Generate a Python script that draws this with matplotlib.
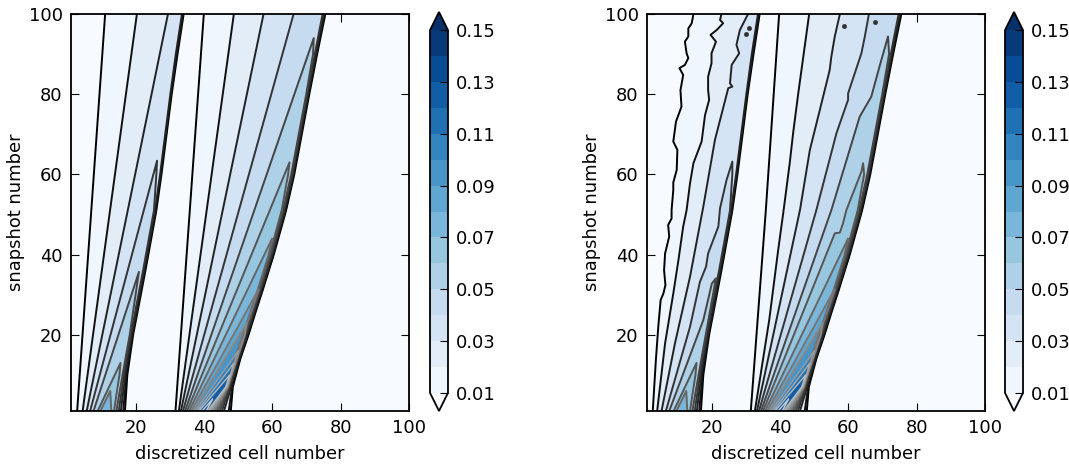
import matplotlib
matplotlib.use("Agg")
import matplotlib.pyplot as plt
from matplotlib.cm import ScalarMappable
from matplotlib.colors import BoundaryNorm, ListedColormap
import numpy as np

nan = np.nan
levels = [0.01, 0.02, 0.03, 0.04, 0.05, 0.06, 0.07, 0.08, 0.09, 0.10, 0.11, 0.12, 0.13, 0.14, 0.15]
bar_ticks = [0.01, 0.03, 0.05, 0.07, 0.09, 0.11, 0.13, 0.15]
axis_ticks = [20, 40, 60, 80, 100]

# shock side of each wave: cell number of each level at these snapshots
snaps_a = [1, 10, 20, 36, 51, 60, 70, 80, 90, 100]
fall_a = [
    [16.8, 17.5, 19.2, 22.8, 26.0, 27.5, 29.0, 30.5, 32.2, 34.0],
    [16.3, 17.2, 19.0, 22.6, 25.8, 27.3, 28.8, 30.3, 32.0, 33.8],
    [15.6, 16.9, 18.8, 22.4, 25.6, 27.1, 28.6, 30.1, 31.7, 33.5],
    [15.0, 16.5, 18.5, 22.1, 25.3, 26.0, nan, nan, nan, nan],
    [14.3, 16.1, 18.2, nan, nan, nan, nan, nan, nan, nan],
    [13.6, 15.2, nan, nan, nan, nan, nan, nan, nan, nan],
    [12.8, nan, nan, nan, nan, nan, nan, nan, nan, nan],
]
snaps_b = [1, 7, 14, 20, 26, 31, 40, 51, 60, 70, 80, 90, 100]
fall_b = [
    [47.8, 48.4, 50.6, 53.0, 55.2, 57.1, 60.4, 64.0, 66.4, 68.6, 70.8, 73.1, 75.5],
    [47.2, 48.2, 50.4, 52.8, 55.0, 56.9, 60.2, 63.8, 66.2, 68.4, 70.6, 72.9, 75.3],
    [45.8, 47.9, 50.2, 52.6, 54.8, 56.7, 60.0, 63.6, 66.0, 68.2, 70.4, 72.7, 75.0],
    [45.2, 47.5, 50.0, 52.3, 54.6, 56.5, 59.8, 63.4, 65.8, 68.0, 70.2, 72.4, 74.7],
    [44.6, 47.2, 49.7, 52.0, 54.3, 56.2, 59.5, 63.1, 65.5, 67.7, 69.9, 71.9, nan],
    [44.0, 47.1, 49.4, 51.7, 54.0, 55.9, 59.2, 62.7, 64.6, nan, nan, nan, nan],
    [43.5, 47.0, 49.1, 51.3, 53.7, 55.6, 58.9, nan, nan, nan, nan, nan, nan],
    [43.0, 46.9, 49.2, 51.2, 53.9, nan, nan, nan, nan, nan, nan, nan, nan],
    [42.5, 46.8, 49.6, 51.9, nan, nan, nan, nan, nan, nan, nan, nan, nan],
    [42.0, 46.7, 49.2, nan, nan, nan, nan, nan, nan, nan, nan, nan, nan],
    [41.5, 46.6, nan, nan, nan, nan, nan, nan, nan, nan, nan, nan, nan],
    [41.0, 46.3, nan, nan, nan, nan, nan, nan, nan, nan, nan, nan, nan],
    [40.6, nan, nan, nan, nan, nan, nan, nan, nan, nan, nan, nan, nan],
]

# rarefaction side, exact panel: (cell numbers, snapshots) per level
rise_a_exact = [
    ([2.8, 11.0], [1, 100]),
    ([4.4, 20.3], [1, 100]),
    ([5.6, 29.4], [1, 100]),
    ([6.6, 26.2], [1, 63.4]),
    ([7.6, 20.9], [1, 35.7]),
    ([8.8, 15.5], [1, 13]),
    ([9.6, 12.5], [1, 6]),
]
rise_b_exact = [
    ([31.6, 39.9], [1, 100]),
    ([32.6, 48.7], [1, 100]),
    ([33.2, 57.4], [1, 100]),
    ([33.8, 66.2], [1, 100]),
    ([34.4, 72.1], [1, 94]),
    ([35.0, 65.0], [1, 63]),
    ([35.6, 59.9], [1, 44]),
    ([36.2, 56.0], [1, 31.4]),
    ([36.8, 52.5], [1, 23]),
    ([37.4, 50.0], [1, 16]),
    ([38.0, 48.8], [1, 13]),
    ([38.5, 47.5], [1, 10]),
    ([39.4, 42.5], [1, 4]),
]

# same for the noisy panel, the low levels wander
rise_a_noisy = [
    ([2.7, 3.6, 4.3, 5.0, 5.8, 6.4, 6.0, 6.3, 7.5, 7.2, 8.2, 8.2, 8.7, 8.7, 9.7, 9.9, 8.7, 9.5, 11.1, 10.8,
      11.6, 10.5, 12.1, 13.1, 12.6, 12.1, 13.1, 13.1, 14.1, 14.6],
     [1.2, 13.7, 22, 28.7, 30.3, 32.4, 36.1, 40.3, 44.5, 47.4, 49, 51.1, 56.1, 58, 61.1, 66.1, 68.2, 73.2, 76.9, 81,
      84.8, 86.5, 87.3, 89, 90.2, 93.1, 94.4, 96.4, 97.7, 100]),
    ([4.0, 6.3, 8.7, 10.2, 11.6, 12.6, 13.6, 14.6, 17.0, 18.0, 19.2, 18.9, 18.9, 19.9, 19.9, 21.2, 19.6, 21.4,
      23.3, 22.4, 22.8],
     [1.2, 17.9, 30.3, 38.6, 47, 51.1, 57.8, 62.8, 68.2, 74.8, 78.6, 81, 84.4, 87.7, 90.2, 93.1, 94.8, 96,
      97.7, 98.5, 100]),
    ([5.3, 9.2, 13.6, 17.5, 20.9, 24.8, 26.0, 25.3, 25.8, 28.0, 27.2, 28.2, 30.6],
     [1.2, 17.9, 34.5, 52, 68.6, 81.5, 81.9, 82.7, 87.3, 90.2, 92.3, 96, 100]),
    ([6.6, 13.6, 16.5, 18.3, 18.9, 21.9, 22.4, 24.3, 26.0],
     [1.2, 22, 33.2, 37, 40.3, 47, 51.6, 58.6, 63.2]),
    ([7.6, 17.5, 20.0, 21.2], [1.2, 23.7, 32.8, 34.1]),
    ([8.8, 15.5], [1, 13]),
    ([9.6, 12.5], [1, 6]),
]
rise_b_noisy = [
    ([31.4, 35.8, 39.7], [1, 51, 100]),
    ([32.6, 36.8, 39.4, 41.0, 42.8, 43.8, 45.3, 48.5], [1, 23.7, 41, 51, 62.8, 70.3, 80.2, 100]),
    ([33.2, 45.8, 48.7, 51.6, 54.5, 55.0, 56.0, 57.5], [1, 51.1, 66.1, 76, 86, 89.4, 94.4, 100]),
    ([33.8, 50.6, 56.5, 59.9, 59.9, 63.8, 64.8, 66.0], [1, 51.1, 70.3, 78.6, 80.2, 90.2, 94.4, 100]),
    ([34.4, 55.0, 63.3, 66.7, 69.1, 71.6], [1, 51.1, 74.4, 79.4, 86.9, 94.4]),
    ([35.0, 56.0, 57.5, 58.4, 59.4, 63.8, 64.3], [1, 45.3, 45.5, 47.8, 51.1, 60.7, 62.8]),
    ([35.6, 59.9], [1, 44]),
    ([36.2, 56.0], [1, 31.4]),
    ([36.8, 52.5], [1, 23]),
    ([37.4, 50.0], [1, 16]),
    ([38.0, 48.8], [1, 13]),
    ([38.5, 47.5], [1, 10]),
    ([39.4, 42.5], [1, 4]),
]
blob_cells = [30.9, 29.9, 67.7, 58.7]
blob_snaps = [96.4, 95.0, 97.9, 97.1]

W, H = 1069.0, 468.0
FS = 12.9


def px_axes(fig, x0, x1, y0, y1):
    return fig.add_axes([x0 / W, 1 - y1 / H, (x1 - x0) / W, (y1 - y0) / H])


def draw_wave(ax, rise, snaps, fall, colors):
    snaps = np.array(snaps, dtype=float)
    for k, (xs, ys) in enumerate(rise):
        row = np.array(fall[k], dtype=float)
        keep = ~np.isnan(row) & (snaps <= ys[-1])
        px = list(xs) + list(row[keep][::-1])
        py = list(ys) + list(snaps[keep][::-1])
        ax.fill(px, py, color=colors[k], lw=0, zorder=2 + k * 0.01)
    for k, (xs, ys) in enumerate(rise):
        row = np.array(fall[k], dtype=float)
        keep = ~np.isnan(row) & (snaps <= ys[-1])
        # contour colour runs from black towards light grey with the level
        c = plt.cm.gray((levels[k] - levels[0]) / 0.15)
        lw = 1.4 if k < 9 else 1.0
        if ys[-1] >= 100:
            ax.plot(xs, ys, color=c, lw=lw, zorder=3 + k * 0.01)
            ax.plot(row[keep], snaps[keep], color=c, lw=lw, zorder=3 + k * 0.01)
        else:
            ax.plot(list(xs) + list(row[keep][::-1]), list(ys) + list(snaps[keep][::-1]),
                    color=c, lw=lw, zorder=3 + k * 0.01)


def finish(ax):
    ax.set_xlim(1, 100)
    ax.set_ylim(1, 100)
    ax.set_xticks(axis_ticks)
    ax.set_yticks(axis_ticks)
    ax.set_xlabel("discretized cell number", fontsize=FS, labelpad=5.5)
    ax.set_ylabel("snapshot number", fontsize=FS, labelpad=2.5)
    ax.tick_params(direction="in", top=True, right=True, length=5.5, width=0.8, labelsize=FS, pad=6, zorder=10)
    for s in ax.spines.values():
        s.set_linewidth(1.3)
        s.set_zorder(10)


blues = plt.cm.Blues
band_mid = [(a + b) / 2 for a, b in zip(levels[:-1], levels[1:])]
band_colors = [blues((m - levels[0]) / (levels[-1] - levels[0])) for m in band_mid]
cmap = ListedColormap(band_colors)
cmap.set_under(blues(0.0))
cmap.set_over(blues(1.0))
norm = BoundaryNorm(levels, len(band_colors))

fig = plt.figure(figsize=(W / 100, H / 100), dpi=100)
panels = [
    (71, 409, 430, rise_a_exact, rise_b_exact),
    (647, 985, 1005, rise_a_noisy, rise_b_noisy),
]
for x0, x1, bar_x, rise_a, rise_b in panels:
    ax = px_axes(fig, x0, x1, 14, 411)
    ax.set_facecolor(blues(0.0))
    draw_wave(ax, rise_a, snaps_a, fall_a, band_colors)
    draw_wave(ax, rise_b, snaps_b, fall_b, band_colors)
    if rise_a is rise_a_noisy:
        ax.plot(blob_cells, blob_snaps, "o", ms=2.5, color="#333333", zorder=4)
    finish(ax)

    # with a given cax the extend triangles stay inside it
    cax = px_axes(fig, bar_x, bar_x + 18, 12, 411)
    cb = fig.colorbar(ScalarMappable(norm=norm, cmap=cmap), cax=cax, extend="both", ticks=bar_ticks, format="%.2f")
    cb.ax.tick_params(direction="in", length=5.5, width=0.8, labelsize=FS, pad=5.5)
    cb.ax.minorticks_off()
    cb.outline.set_linewidth(1.3)

fig.savefig("out.png", dpi=100)
